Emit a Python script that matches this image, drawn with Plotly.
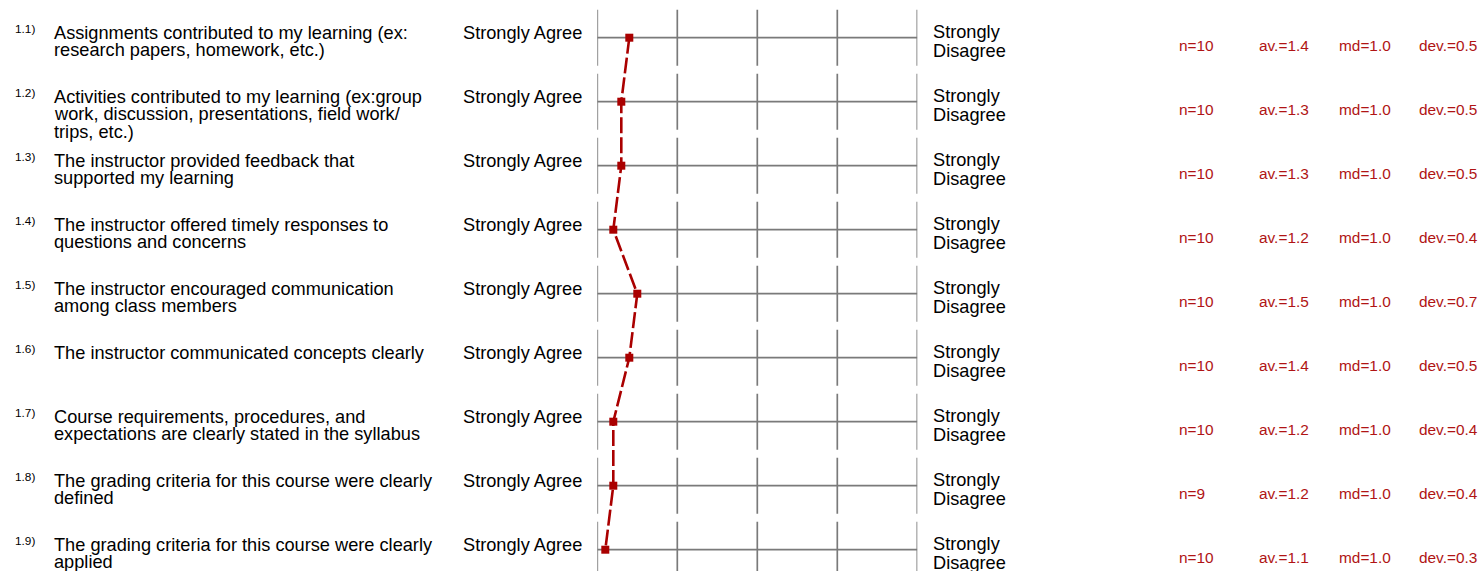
import plotly.graph_objects as go

# ---------------- data ----------------
item_labels = ["1.1)", "1.2)", "1.3)", "1.4)", "1.5)", "1.6)", "1.7)", "1.8)", "1.9)"]
questions = [
    "Assignments contributed to my learning (ex:<br>research papers, homework, etc.)",
    "Activities contributed to my learning (ex:group<br>work, discussion, presentations, field work/<br>trips, etc.)",
    "The instructor provided feedback that<br>supported my learning",
    "The instructor offered timely responses to<br>questions and concerns",
    "The instructor encouraged communication<br>among class members",
    "The instructor communicated concepts clearly",
    "Course requirements, procedures, and<br>expectations are clearly stated in the syllabus",
    "The grading criteria for this course were clearly<br>defined",
    "The grading criteria for this course were clearly<br>applied",
]
n_vals = [10, 10, 10, 10, 10, 10, 10, 9, 10]
av_vals = [1.4, 1.3, 1.3, 1.2, 1.5, 1.4, 1.2, 1.2, 1.1]
md_vals = [1.0, 1.0, 1.0, 1.0, 1.0, 1.0, 1.0, 1.0, 1.0]
dev_vals = [0.5, 0.5, 0.5, 0.4, 0.7, 0.5, 0.4, 0.4, 0.3]
left_pole = "Strongly Agree"
right_pole = "Strongly<br>Disagree"
scale_ticks = [1, 2, 3, 4, 5]

# ---------------- layout constants ----------------
W, H = 1480, 571
FONT = "Liberation Sans, Arial, sans-serif"
TXT = "#000000"
RED = "#b01414"
GRID = "#7a7a7a"

rows = list(range(len(questions)))
row_px0, row_step = 37.7, 64.0
y_top = -row_px0 / row_step
y_bot = (H - row_px0) / row_step

def px(x):
    return x / W

fig = go.Figure()

fig.add_trace(go.Scatter(
    x=av_vals, y=rows, mode="lines+markers",
    line=dict(color="#aa0000", width=2.6, dash="16px,4px"),
    marker=dict(symbol="square", size=8, color="#aa0000"),
    cliponaxis=False, hoverinfo="skip", showlegend=False,
))

shapes = []
annotations = []
for i in rows:
    shapes.append(dict(type="line", xref="x", yref="y", x0=scale_ticks[0], x1=scale_ticks[-1],
                       y0=i, y1=i, line=dict(color=GRID, width=1.7), layer="below"))
    for t in scale_ticks:
        shapes.append(dict(type="line", xref="x", yref="y", x0=t, x1=t,
                           y0=i - 0.437, y1=i + 0.44, line=dict(color=GRID, width=1.7), layer="below"))
    # item label
    annotations.append(dict(xref="paper", yref="y", x=px(12.5), y=i, yshift=8.7,
                            text=item_labels[i], showarrow=False, xanchor="left", yanchor="middle",
                            font=dict(family=FONT, size=11.8, color=TXT)))
    # question lines
    for k, line in enumerate(questions[i].split("<br>")):
        annotations.append(dict(xref="paper", yref="y", x=px(52), y=i, yshift=4.6 - 17.2 * k,
                                text=line, showarrow=False, xanchor="left", yanchor="middle",
                                font=dict(family=FONT, size=18.2, color=TXT)))
    annotations.append(dict(xref="paper", yref="y", x=px(583.5), y=i, yshift=5.0,
                            text=left_pole, showarrow=False, xanchor="right", yanchor="middle",
                            font=dict(family=FONT, size=18.2, color=TXT)))
    for k, line in enumerate(right_pole.split("<br>")):
        annotations.append(dict(xref="paper", yref="y", x=px(931), y=i, yshift=5.6 - 18.4 * k,
                                text=line, showarrow=False, xanchor="left", yanchor="middle",
                                font=dict(family=FONT, size=18.2, color=TXT)))
    stats = [f"n={n_vals[i]}", f"av.={av_vals[i]:.1f}", f"md={md_vals[i]:.1f}", f"dev.={dev_vals[i]:.1f}"]
    for sx, s in zip([1176.5, 1256.5, 1336.5, 1416.5], stats):
        annotations.append(dict(xref="paper", yref="y", x=px(sx), y=i, yshift=-7.4,
                                text=s, showarrow=False, xanchor="left", yanchor="middle",
                                font=dict(family=FONT, size=15.4, color=RED)))

fig.update_layout(
    width=W, height=H,
    margin=dict(l=0, r=0, t=0, b=0),
    paper_bgcolor="white", plot_bgcolor="white",
    xaxis=dict(domain=[px(597.3), px(917.3)], range=[1, 5], visible=False, fixedrange=True),
    yaxis=dict(domain=[0, 1], range=[y_bot, y_top], visible=False, fixedrange=True),
    shapes=shapes, annotations=annotations,
)

fig.write_html("out.html", config={"displayModeBar": False},
               post_script="document.body.style.margin='0';document.body.style.overflow='hidden';")
